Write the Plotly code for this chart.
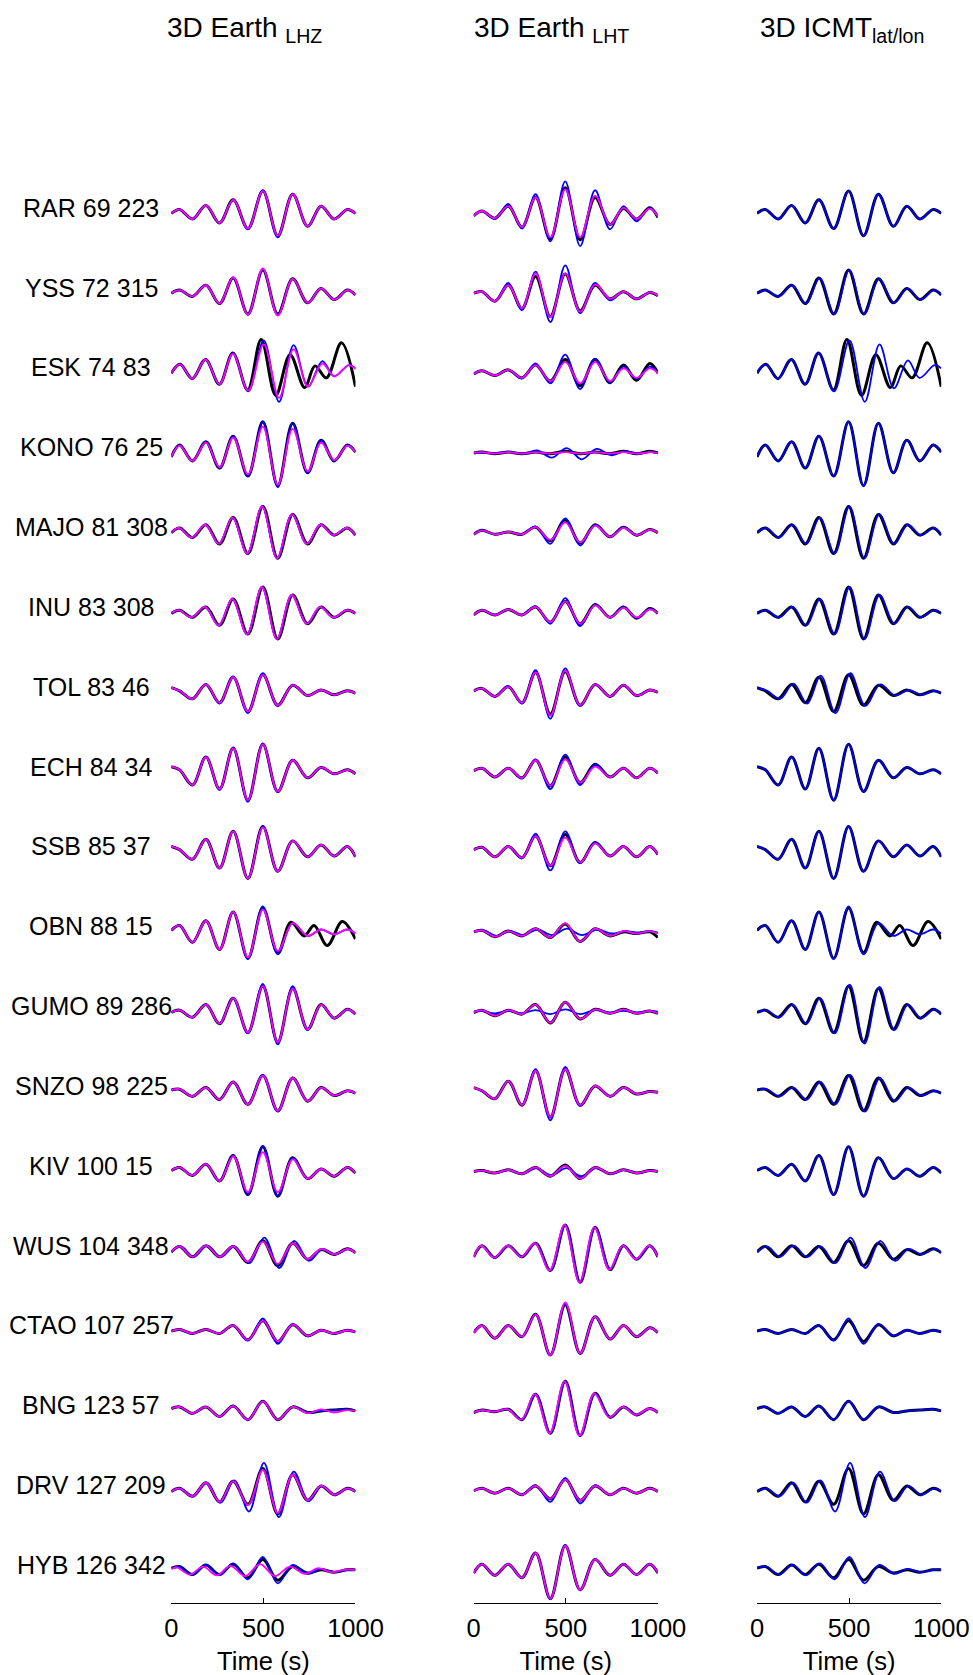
import plotly.graph_objects as go

# ---------------------------------------------------------------------------
# Stations (name, epicentral distance, azimuth) from top to bottom
STATIONS = ["RAR 69 223", "YSS 72 315", "ESK 74 83", "KONO 76 25", "MAJO 81 308",
            "INU 83 308", "TOL 83 46", "ECH 84 34", "SSB 85 37", "OBN 88 15",
            "GUMO 89 286", "SNZO 98 225", "KIV 100 15", "WUS 104 348", "CTAO 107 257",
            "BNG 123 57", "DRV 127 209", "HYB 126 342"]

# Times (s) of the successive extrema of the filtered wave packets
T_EXT = [0, 45, 115, 188, 262, 336, 416, 497, 578, 659, 740, 813, 884, 956, 1000]

# Amplitudes at T_EXT, in percent of the trace spacing
# LHZ observed (black, columns 1 and 3)
lhz_obs = [
    [0, 5, -7, 10, -12, 17, -19, 28, -28, 24, -16, 9, -7, 5, 0],
    [0, 4, -4, 10, -13, 19, -26, 29, -26, 18, -12, 6, -8, 4, -2],
    [0, 11, -7, 17, -14, 25, -21, 42, -28, 23, -18, 9, -6, 38, -17],
    [-5, 10, -10, 14, -19, 21, -29, 39, -41, 37, -25, 16, -10, 10, 1],
    [0, 6, -6, 10, -14, 19, -26, 33, -32, 23, -14, 10, -3, 6, -3],
    [-1, 3, -6, 7, -16, 17, -27, 32, -33, 22, -14, 7, -6, 3, -1],
    [6, 2, -8, 10, -13, 19, -24, 22, -16, 9, -4, 3, -3, 2, -1],
    [7, 3, -16, 19, -21, 30, -35, 35, -24, 15, -7, 6, -2, 3, -2],
    [7, 3, -9, 16, -20, 26, -33, 32, -24, 14, -6, 9, -5, 7, -6],
    [2, 8, -13, 14, -22, 25, -33, 30, -26, 12, -5, 8, -17, 13, -9],
    [-1, 2, -7, 9, -15, 17, -26, 32, -38, 29, -22, 9, -8, 3, -3],
    [2, 3, -6, 5, -10, 12, -16, 20, -24, 17, -12, 5, -5, 1, -2],
    [1, 5, -5, 9, -12, 20, -29, 31, -31, 17, -9, 3, -6, 5, -2],
    [-1, 6, -7, 7, -7, 6, -14, 13, -18, 10, -10, 2, -4, 3, -2],
    [0, 2, -3, 2, -3, 7, -11, 13, -13, 8, -6, 1, -3, 1, -1],
    [3, 5, -3, 5, -7, 6, -11, 12, -11, 5, -2, 0, 1, 2, 0],
    [-1, 3, -7, 10, -14, 12, -17, 28, -29, 20, -12, 6, -5, 3, -1],
    [3, 5, -5, 7, -5, 8, -9, 14, -12, 5, -3, 1, -2, 1, 1],
]
lhz_obs_times = {
    "ESK": [0, 48, 114, 186, 261, 334, 415, 488, 567, 645, 724, 780, 842, 924, 1000],
    "OBN": [0, 45, 115, 188, 262, 336, 416, 497, 578, 650, 722, 775, 847, 928, 1000],
}
lhz_obs_lag = {}

# LHZ 3D synthetics (blue, column 1)
lhz_syn = [
    [0, 5, -7, 10, -12, 17, -20, 29, -30, 24, -16, 9, -7, 5, 0],
    [0, 4, -4, 10, -13, 19, -27, 30, -27, 18, -12, 6, -8, 4, -2],
    [0, 11, -7, 17, -14, 25, -23, 41, -36, 35, -17, 15, -4, 10, 6],
    [-5, 10, -10, 14, -19, 21, -29, 39, -43, 37, -25, 16, -10, 10, 1],
    [0, 6, -6, 10, -14, 19, -26, 33, -32, 23, -14, 10, -3, 6, -3],
    [-1, 3, -6, 7, -16, 17, -27, 32, -33, 22, -14, 7, -6, 3, -1],
    [6, 2, -8, 10, -14, 20, -26, 24, -17, 9, -4, 3, -3, 2, -1],
    [7, 3, -16, 19, -22, 31, -37, 36, -25, 15, -7, 6, -2, 3, -2],
    [7, 3, -9, 16, -20, 26, -33, 32, -24, 14, -6, 9, -5, 7, -6],
    [2, 8, -13, 14, -22, 25, -34, 32, -28, 11, -5, 3, -3, 3, -2],
    [-1, 2, -7, 9, -15, 17, -27, 35, -41, 32, -23, 9, -8, 3, -3],
    [2, 3, -6, 5, -10, 12, -16, 21, -25, 17, -12, 5, -5, 1, -2],
    [1, 5, -5, 9, -12, 20, -29, 32, -31, 17, -9, 3, -6, 5, -2],
    [-1, 6, -7, 7, -7, 6, -15, 17, -21, 13, -12, 3, -4, 3, -2],
    [0, 2, -3, 2, -3, 7, -12, 16, -16, 9, -6, 1, -3, 1, -1],
    [3, 5, -3, 5, -7, 6, -11, 12, -11, 5, -2, 0, 1, 2, 0],
    [-1, 3, -7, 10, -15, 13, -26, 35, -33, 24, -13, 6, -5, 3, -1],
    [3, 5, -5, 7, -6, 9, -11, 17, -16, 7, -4, 2, -2, 1, 1],
]
lhz_syn_times = {
    "ESK": [0, 48, 114, 186, 261, 334, 418, 502, 585, 664, 742, 820, 884, 964, 1000],
}
lhz_syn_lag = {"MAJO": -4, "INU": -5, "WUS": 8, "DRV": 6}

# LHZ alternative synthetics (magenta, column 1)
lhz_alt = [
    [0, 5, -7, 10, -12, 17, -19, 28, -28, 24, -16, 9, -7, 5, 0],
    [0, 4, -4, 10, -13, 20, -27, 31, -28, 18, -12, 6, -8, 4, -2],
    [0, 11, -7, 17, -14, 24, -22, 36, -31, 30, -17, 12, -4, 10, 5],
    [-5, 9, -10, 13, -18, 19, -27, 33, -40, 30, -23, 13, -9, 9, 1],
    [0, 6, -6, 10, -14, 19, -26, 33, -32, 23, -14, 10, -3, 6, -3],
    [-1, 3, -6, 7, -16, 17, -27, 32, -33, 22, -14, 7, -6, 3, -1],
    [6, 2, -8, 10, -13, 19, -24, 22, -16, 9, -4, 3, -3, 2, -1],
    [7, 3, -16, 19, -21, 30, -35, 35, -24, 15, -7, 6, -2, 3, -2],
    [7, 3, -9, 16, -20, 26, -33, 31, -24, 14, -6, 9, -5, 7, -6],
    [2, 8, -13, 14, -22, 25, -32, 28, -24, 11, -5, 3, -3, 3, -2],
    [-1, 2, -7, 9, -15, 17, -26, 32, -38, 29, -22, 9, -8, 3, -3],
    [2, 3, -6, 5, -10, 12, -16, 20, -24, 17, -12, 5, -5, 1, -2],
    [1, 5, -5, 9, -12, 19, -26, 24, -26, 15, -9, 3, -6, 5, -2],
    [-1, 6, -7, 7, -7, 6, -13, 12, -16, 10, -10, 3, -4, 3, -2],
    [0, 2, -3, 2, -3, 7, -11, 13, -13, 8, -6, 1, -3, 1, -1],
    [3, 5, -3, 5, -7, 6, -11, 12, -11, 5, -3, 2, -2, 1, 0],
    [-1, 3, -7, 10, -14, 12, -18, 26, -28, 20, -12, 6, -5, 3, -1],
    [2, 4, -5, 5, -6, 6, -7, 8, -7, 5, -4, 3, -2, 1, 1],
]
lhz_alt_times = {
    "ESK": [0, 48, 114, 186, 261, 334, 418, 502, 585, 664, 742, 820, 884, 964, 1000],
}
lhz_alt_lag = {"MAJO": -4, "INU": -5, "HYB": -15}

# LHT observed (black, column 2)
lht_obs = [
    [-3, 3, -6, 9, -17, 20, -32, 32, -33, 20, -14, 6, -7, 7, -5],
    [0, 2, -10, 10, -19, 21, -29, 24, -22, 10, -7, 2, -7, 1, -3],
    [-1, 3, -3, 4, -6, 10, -10, 17, -16, 17, -12, 10, -9, 12, 0],
    [0, 1, -1, 1, -1, 1, -1, 2, -1, 1, -1, 2, -1, 2, 0],
    [-2, 3, -2, 1, -2, 7, -10, 16, -13, 10, -5, 7, -3, 4, 0],
    [-3, 3, -3, 4, -3, 7, -12, 14, -14, 10, -6, 7, -7, 5, -1],
    [2, 5, -5, 7, -13, 25, -27, 26, -16, 10, -5, 9, -4, 3, 0],
    [2, 5, -6, 5, -7, 15, -17, 19, -13, 10, -6, 5, -7, 5, -1],
    [3, 6, -6, 7, -7, 20, -17, 22, -13, 12, -5, 7, -6, 7, -3],
    [0, 2, -6, 1, -5, 4, -7, 10, -12, 4, -5, 0, -2, 0, -7],
    [-1, 2, -5, 2, -3, 9, -14, 12, -9, 3, -2, 3, -2, 1, -2],
    [5, 1, -9, 13, -17, 26, -32, 28, -17, 7, -6, 5, -3, 0, -1],
    [0, 1, -2, 2, -3, 5, -6, 8, -9, 5, -3, 2, -2, 1, 0],
    [-7, 7, -8, 7, -7, 10, -24, 33, -39, 30, -23, 7, -10, 7, -7],
    [-2, 7, -9, 7, -7, 21, -30, 33, -28, 18, -10, 7, -7, 4, -2],
    [-2, 1, -1, 2, -11, 21, -28, 37, -31, 22, -8, 5, -5, 3, -2],
    [0, 3, -3, 3, -5, 6, -10, 14, -12, 6, -5, 3, -3, 3, -1],
    [-3, 8, -6, 8, -9, 22, -35, 31, -24, 14, -6, 8, -5, 8, -3],
]
lht_obs_times = {}
lht_obs_lag = {}

# LHT 3D synthetics (blue, column 2)
lht_syn = [
    [-3, 3, -7, 12, -19, 24, -35, 40, -41, 29, -20, 9, -10, 7, -5],
    [0, 2, -10, 13, -21, 27, -36, 35, -25, 13, -9, 2, -7, 1, -3],
    [-1, 3, -3, 4, -7, 12, -13, 23, -20, 18, -12, 8, -7, 8, 0],
    [0, 0, 0, 1, -1, 3, -6, 6, -8, 5, -3, 2, -1, 1, 0],
    [-2, 3, -2, 1, -2, 8, -14, 18, -16, 10, -5, 7, -3, 4, 0],
    [-3, 3, -3, 4, -3, 8, -14, 18, -17, 10, -6, 7, -7, 5, -1],
    [2, 5, -5, 8, -14, 28, -33, 30, -17, 10, -5, 9, -4, 3, 0],
    [2, 5, -6, 5, -8, 16, -21, 22, -16, 10, -6, 5, -7, 5, -1],
    [3, 6, -6, 7, -8, 23, -23, 26, -14, 12, -5, 7, -6, 7, -3],
    [0, 2, -5, 1, -4, 3, -4, 4, -4, 3, -2, 1, -1, 1, -1],
    [0, 1, -2, 1, -2, 2, -3, 3, -3, 2, -1, 1, -1, 1, 0],
    [5, 1, -9, 13, -17, 28, -36, 31, -18, 7, -6, 5, -3, 0, -1],
    [0, 1, -2, 2, -3, 4, -5, 4, -6, 4, -3, 2, -2, 1, 0],
    [-7, 7, -8, 7, -7, 10, -24, 33, -38, 30, -22, 7, -10, 7, -7],
    [-2, 7, -9, 7, -7, 21, -30, 34, -28, 18, -10, 7, -7, 4, -2],
    [-2, 1, -1, 2, -11, 21, -28, 37, -31, 22, -8, 5, -5, 3, -2],
    [0, 3, -3, 3, -5, 7, -14, 16, -16, 7, -5, 3, -3, 3, -1],
    [-3, 8, -6, 8, -9, 22, -36, 32, -24, 14, -6, 8, -5, 8, -3],
]
lht_syn_times = {}
lht_syn_lag = {"KONO": 8, "OBN": 10, "KIV": 6}

# LHT alternative synthetics (magenta, column 2)
lht_alt = [
    [-3, 3, -6, 9, -17, 20, -30, 30, -30, 22, -14, 7, -7, 6, -4],
    [0, 2, -10, 10, -19, 25, -30, 25, -23, 11, -7, 2, -7, 1, -3],
    [-1, 3, -3, 4, -6, 10, -10, 14, -13, 14, -10, 6, -6, 6, 0],
    [0, 1, -1, 1, -1, 1, -1, 1, -1, 1, -1, 1, -1, 1, 0],
    [-2, 3, -2, 1, -2, 7, -9, 13, -12, 9, -5, 6, -3, 4, 0],
    [-3, 3, -3, 4, -3, 7, -12, 14, -14, 9, -6, 6, -6, 4, -1],
    [2, 5, -5, 7, -13, 25, -29, 27, -16, 10, -5, 9, -4, 3, 0],
    [2, 5, -6, 5, -7, 15, -17, 16, -13, 7, -6, 5, -7, 5, -1],
    [3, 6, -6, 7, -7, 20, -17, 18, -13, 11, -5, 7, -6, 7, -3],
    [0, 2, -6, 1, -5, 4, -7, 11, -12, 4, -5, 1, -2, 1, -2],
    [-1, 2, -5, 2, -3, 9, -14, 12, -9, 3, -2, 3, -2, 1, -2],
    [5, 1, -9, 13, -17, 26, -32, 28, -17, 7, -6, 5, -3, 0, -1],
    [0, 1, -2, 2, -3, 5, -6, 7, -9, 5, -3, 2, -2, 1, 0],
    [-7, 7, -8, 7, -7, 10, -24, 33, -39, 30, -23, 7, -10, 7, -7],
    [-2, 7, -9, 7, -7, 21, -30, 36, -28, 18, -10, 7, -7, 4, -2],
    [-2, 1, -1, 2, -11, 21, -28, 37, -31, 22, -8, 5, -5, 3, -2],
    [0, 3, -3, 3, -5, 6, -10, 14, -12, 6, -5, 3, -3, 3, -1],
    [-3, 8, -6, 8, -9, 22, -35, 31, -24, 14, -6, 8, -5, 8, -3],
]
lht_alt_times = {}
lht_alt_lag = {"BNG": -4, "WUS": -4}

# LHZ synthetics for the ICMT lat/lon source (blue, column 3)
icmt_syn = [
    [0, 5, -7, 10, -12, 17, -19, 28, -28, 24, -16, 9, -7, 5, 0],
    [0, 4, -4, 10, -13, 19, -26, 29, -26, 18, -12, 6, -8, 4, -2],
    [0, 11, -7, 17, -14, 25, -23, 41, -36, 36, -19, 16, -6, 10, 6],
    [-5, 10, -10, 14, -19, 21, -29, 39, -41, 37, -25, 16, -10, 10, 1],
    [0, 6, -6, 10, -14, 19, -26, 33, -32, 23, -14, 10, -3, 6, -3],
    [-1, 3, -6, 7, -16, 17, -27, 32, -33, 22, -14, 7, -6, 3, -1],
    [6, 2, -8, 11, -14, 21, -26, 24, -17, 10, -4, 3, -3, 2, -1],
    [7, 3, -16, 19, -21, 30, -35, 35, -24, 15, -7, 6, -2, 3, -2],
    [7, 3, -9, 16, -20, 26, -33, 32, -24, 14, -6, 9, -5, 7, -6],
    [2, 8, -13, 14, -22, 25, -34, 32, -28, 11, -5, 3, -3, 3, -2],
    [-1, 2, -7, 9, -15, 17, -27, 34, -40, 31, -23, 9, -8, 3, -3],
    [2, 3, -6, 5, -10, 12, -16, 21, -25, 17, -12, 5, -5, 1, -2],
    [1, 5, -5, 9, -12, 20, -29, 31, -31, 17, -9, 3, -6, 5, -2],
    [-1, 6, -7, 7, -7, 6, -15, 17, -21, 13, -12, 3, -4, 3, -2],
    [0, 2, -3, 2, -3, 7, -12, 16, -16, 9, -6, 1, -3, 1, -1],
    [3, 5, -3, 5, -7, 6, -11, 12, -11, 5, -2, 0, 1, 2, 0],
    [-1, 3, -7, 10, -15, 13, -26, 35, -33, 24, -13, 6, -5, 3, -1],
    [3, 5, -5, 7, -6, 9, -11, 17, -16, 7, -4, 2, -2, 1, 1],
]
icmt_syn_times = {
    "ESK": [0, 48, 114, 186, 261, 334, 418, 502, 585, 665, 743, 819, 882, 964, 1000],
}
icmt_syn_lag = {"YSS": 4, "MAJO": 5, "INU": 6, "TOL": 10, "GUMO": 6, "SNZO": 8,
                "WUS": 10, "DRV": 8, "HYB": 5}

COLUMN_TITLES = ["3D Earth <sub>LHZ</sub>", "3D Earth <sub>LHT</sub>", "3D ICMT<sub>lat/lon</sub>"]
X_TICKS = [0, 500, 1000]
X_LABEL = "Time (s)"

# ---------------------------------------------------------------------------
W, H = 973, 1675
SPACING = 100                      # offset between traces, in amplitude units
FONT = "Liberation Sans, Arial, Helvetica, sans-serif"

BLACK = dict(color="#000000", width=3.0)
BLUE = dict(color="#0000FF", width=1.8)
MAGENTA = dict(color="#FF00FF", width=1.8)

panels = [
    [(lhz_obs, lhz_obs_times, lhz_obs_lag, BLACK),
     (lhz_syn, lhz_syn_times, lhz_syn_lag, BLUE),
     (lhz_alt, lhz_alt_times, lhz_alt_lag, MAGENTA)],
    [(lht_obs, lht_obs_times, lht_obs_lag, BLACK),
     (lht_syn, lht_syn_times, lht_syn_lag, BLUE),
     (lht_alt, lht_alt_times, lht_alt_lag, MAGENTA)],
    [(lhz_obs, lhz_obs_times, lhz_obs_lag, BLACK),
     (icmt_syn, icmt_syn_times, icmt_syn_lag, BLUE)],
]

# horizontal extent of the three columns (layout pixels)
col_px = [(170.4, 361.5), (484.1, 675.2), (778.0, 969.1)]
axis_bottom_px, area_top_px = 1602.5, 120.0
y_lo = -SPACING * (len(STATIONS) - 1) - 40
y_hi = 117

fig = go.Figure()

for c, series_list in enumerate(panels):
    xa = "x" if c == 0 else f"x{c + 1}"
    ya = "y" if c == 0 else f"y{c + 1}"
    for vals, times_over, lags, style in series_list:
        for i, st in enumerate(STATIONS):
            key = st.split()[0]
            t = times_over.get(key, T_EXT)
            lag = lags.get(key, 0)
            t = [t[0]] + [v + lag for v in t[1:-1]] + [t[-1]]
            y = [v - SPACING * i for v in vals[i]]
            fig.add_trace(go.Scatter(
                x=t, y=y, mode="lines",
                line=dict(color=style["color"], width=style["width"],
                          shape="spline", smoothing=1.0),
                xaxis=xa, yaxis=ya, hoverinfo="skip", showlegend=False))

layout = dict(
    width=W, height=H, autosize=False,
    margin=dict(l=0, r=0, t=0, b=0),
    paper_bgcolor="white", plot_bgcolor="white",
    font=dict(family=FONT, size=25, color="black"),
)
y_dom = [1 - axis_bottom_px / H, 1 - area_top_px / H]
for c, (x0, x1) in enumerate(col_px):
    sfx = "" if c == 0 else str(c + 1)
    layout["xaxis" + sfx] = dict(
        domain=[x0 / W, x1 / W], range=[0, 1000], anchor="y" + sfx,
        showline=True, linecolor="black", linewidth=1,
        ticks="inside", ticklen=5, tickwidth=1, tickcolor="black",
        tickvals=X_TICKS, ticktext=[str(v) for v in X_TICKS],
        tickfont=dict(family=FONT, size=25.5, color="black"),
        ticklabelstandoff=3,
        showgrid=False, zeroline=False, fixedrange=True,
        title=dict(text=X_LABEL, font=dict(family=FONT, size=25.5, color="black"),
                   standoff=15),
    )
    layout["yaxis" + sfx] = dict(
        domain=y_dom, range=[y_lo, y_hi], anchor="x" + sfx,
        visible=False, fixedrange=True,
    )
fig.update_layout(**layout)

# column titles
title_cx = [246.2, 565.1, 865.8]
for c, txt in enumerate(COLUMN_TITLES):
    fig.add_annotation(text=txt, xref="paper", yref="paper",
                       x=title_cx[c] / W, y=1 - 30 / H,
                       xanchor="center", yanchor="middle", showarrow=False,
                       font=dict(family=FONT, size=28, color="black"))

# station labels to the left of the first column
for i, st in enumerate(STATIONS):
    fig.add_annotation(text=st, xref="paper", yref="y",
                       x=87.3 / W, y=-SPACING * i + 7,
                       xanchor="center", yanchor="middle", showarrow=False,
                       font=dict(family=FONT, size=25, color="black"))

fig.write_html("out.html", config={"responsive": False})
